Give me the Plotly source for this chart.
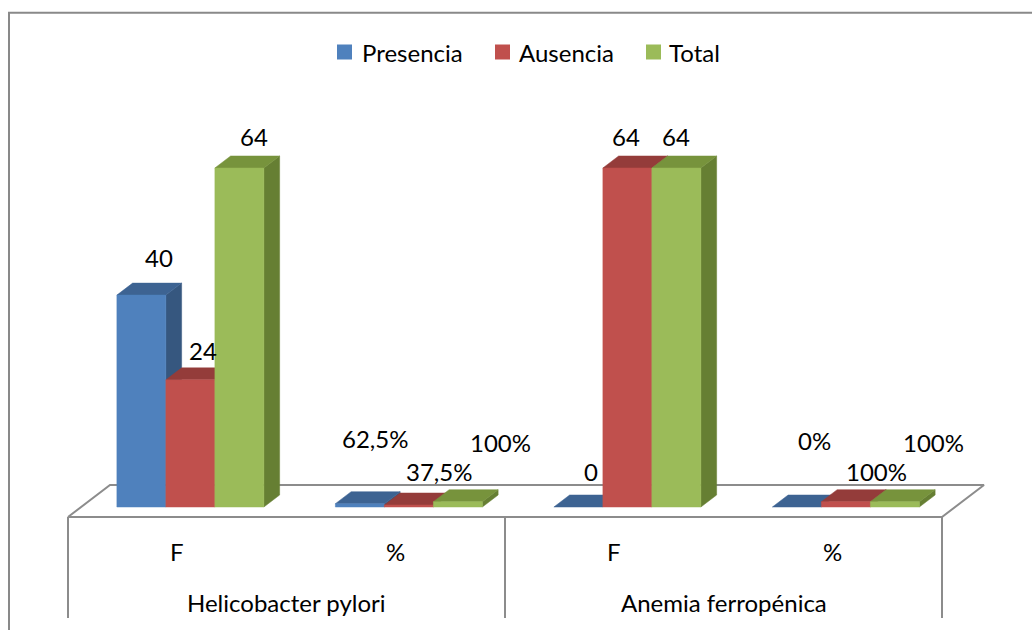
import plotly.graph_objects as go

# ---- data -------------------------------------------------------------
groups = ["Helicobacter pylori", "Anemia ferropénica"]
measures = ["F", "%"]
series = ["Presencia", "Ausencia", "Total"]
presencia = [40, 0.625, 0, 0.0]
ausencia = [24, 0.375, 64, 1.0]
total = [64, 1.0, 64, 1.0]
values = [presencia, ausencia, total]

# ---- styling ----------------------------------------------------------
FONT = "Lato"
FRONT = ["#4F81BD", "#C0504D", "#9BBB59"]
TOP = ["#3D6392", "#943C3A", "#77933C"]
SIDE = ["#36577F", "#8A3836", "#667F33"]
LINE_GREY = "#8C8C8C"

# ---- page geometry (pixels) ------------------------------------------
W, H = 1032, 630
FLOOR_LEFT_PX = 68.0      # front-left corner of the floor
CAT_PX = 218.5            # width of one category on the front edge
FLOOR_FRONT_PX = 517.0    # y of the floor's front edge
UNIT_PX = 5.297           # pixels per value unit
DEPTH_DX_PX, DEPTH_DY_PX = 42.0, 32.0   # floor depth projection
BAR_Z = (0.3125, 0.6875)  # bar front / back depth (0 = front, 1 = back)
BAR_W = 49.0 / CAT_PX
AXIS_BOX_PX = 101.0       # height of the category label box

# legend layout (pixels): swatch left edges, text left edges, centre line
LEGEND_SWATCH_X = [337, 495, 646]
LEGEND_TEXT_X = [360, 517, 667]
LEGEND_Y = 52
LEGEND_SWATCH = 15

DX = DEPTH_DX_PX / CAT_PX
DY = DEPTH_DY_PX / UNIT_PX


def proj(x, y, z):
    """Oblique projection of (category, value, depth) onto the 2D axes."""
    return x + z * DX, y + z * DY


def px_to_y(py):
    return (FLOOR_FRONT_PX - py) / UNIT_PX


n_cat = len(groups) * len(measures)
x_range = [-0.5 - FLOOR_LEFT_PX / CAT_PX, -0.5 + (W - FLOOR_LEFT_PX) / CAT_PX]
y_range = [px_to_y(H), px_to_y(0)]

fig = go.Figure()


def poly(pts, fill, line=None, width=0):
    xs = [p[0] for p in pts] + [pts[0][0]]
    ys = [p[1] for p in pts] + [pts[0][1]]
    fig.add_trace(go.Scatter(
        x=xs, y=ys, mode="lines", fill="toself", fillcolor=fill,
        line=dict(color=line or fill, width=width),
        hoverinfo="skip", showlegend=False))


# floor
left, right = -0.5, n_cat - 0.5
floor = [proj(left, 0, 0), proj(right, 0, 0), proj(right, 0, 1), proj(left, 0, 1)]
poly(floor, "white", LINE_GREY, 2)

# category box separators
y_box = px_to_y(FLOOR_FRONT_PX + AXIS_BOX_PX)
for xs in [left, left + len(measures), right]:
    fig.add_trace(go.Scatter(x=[xs, xs], y=[0, y_box], mode="lines",
                             line=dict(color=LINE_GREY, width=2),
                             hoverinfo="skip", showlegend=False))

# 3D columns, painted left to right
zf, zb = BAR_Z
tops = []
for c in range(n_cat):
    for s in range(len(series)):
        v = values[s][c]
        xl = c + (s - 1.5) * BAR_W
        xr = xl + BAR_W
        side = [proj(xr, 0, zf), proj(xr, v, zf), proj(xr, v, zb), proj(xr, 0, zb)]
        top = [proj(xl, v, zf), proj(xr, v, zf), proj(xr, v, zb), proj(xl, v, zb)]
        front = [proj(xl, 0, zf), proj(xr, 0, zf), proj(xr, v, zf), proj(xl, v, zf)]
        if v > 0:
            poly(side, SIDE[s], width=0.5)
        poly(top, TOP[s], width=0.5)
        if v > 0:
            poly(front, FRONT[s], width=0.5)
        tops.append((c, s, proj((xl + xr) / 2, v, zb)))


def fmt(c, v):
    if measures[c % len(measures)] == "%":
        return f"{v * 100:g}%".replace(".", ",")
    return f"{v:g}"


# data label offsets (px) from each column's back-top centre
LABEL_OFFSETS = [
    [(2, -26), (-0.6, -53), (-3, -24), (1.4, -55)],      # Presencia
    [(-3.6, -17), (14.4, -22), (-17, -19), (15, -18)],   # Ausencia
    [(-1, -19), (26.4, -47), (-16, -19), (22.4, -47)],   # Total
]
for c, s, (tx, ty) in tops:
    dx, dy = LABEL_OFFSETS[s][c]
    fig.add_annotation(x=tx, y=ty, text=fmt(c, values[s][c]), showarrow=False,
                       xshift=dx, yshift=-dy, xanchor="center", yanchor="middle",
                       font=dict(family=FONT, size=24, color="black"))

# category labels
for c in range(n_cat):
    fig.add_annotation(x=c, y=px_to_y(551), text=measures[c % len(measures)],
                       showarrow=False, font=dict(family=FONT, size=24, color="black"))
for g, name in enumerate(groups):
    fig.add_annotation(x=g * len(measures) + (len(measures) - 1) / 2, y=px_to_y(602),
                       text=name, showarrow=False,
                       font=dict(family=FONT, size=24, color="black"))

# legend: colour swatches and series names
shapes = [dict(type="rect", xref="paper", yref="paper",
               x0=9 / W, x1=1.05, y0=-0.05, y1=1 - 12.7 / H,
               line=dict(color="#898989", width=2), fillcolor="rgba(0,0,0,0)",
               layer="below")]
for s, name in enumerate(series):
    x0 = LEGEND_SWATCH_X[s]
    shapes.append(dict(type="rect", xref="paper", yref="paper",
                       x0=x0 / W, x1=(x0 + LEGEND_SWATCH) / W,
                       y0=1 - (LEGEND_Y + LEGEND_SWATCH / 2) / H,
                       y1=1 - (LEGEND_Y - LEGEND_SWATCH / 2) / H,
                       line=dict(width=0), fillcolor=FRONT[s]))
    fig.add_annotation(xref="paper", yref="paper", x=LEGEND_TEXT_X[s] / W,
                       y=1 - LEGEND_Y / H, text=name, showarrow=False,
                       xanchor="left", yanchor="middle",
                       font=dict(family=FONT, size=24, color="black"))

fig.update_layout(
    width=W, height=H, margin=dict(l=0, r=0, t=0, b=0),
    paper_bgcolor="white", plot_bgcolor="white",
    xaxis=dict(range=x_range, visible=False, fixedrange=True),
    yaxis=dict(range=y_range, visible=False, fixedrange=True),
    shapes=shapes,
    showlegend=False,
)

fig.write_html("out.html")
